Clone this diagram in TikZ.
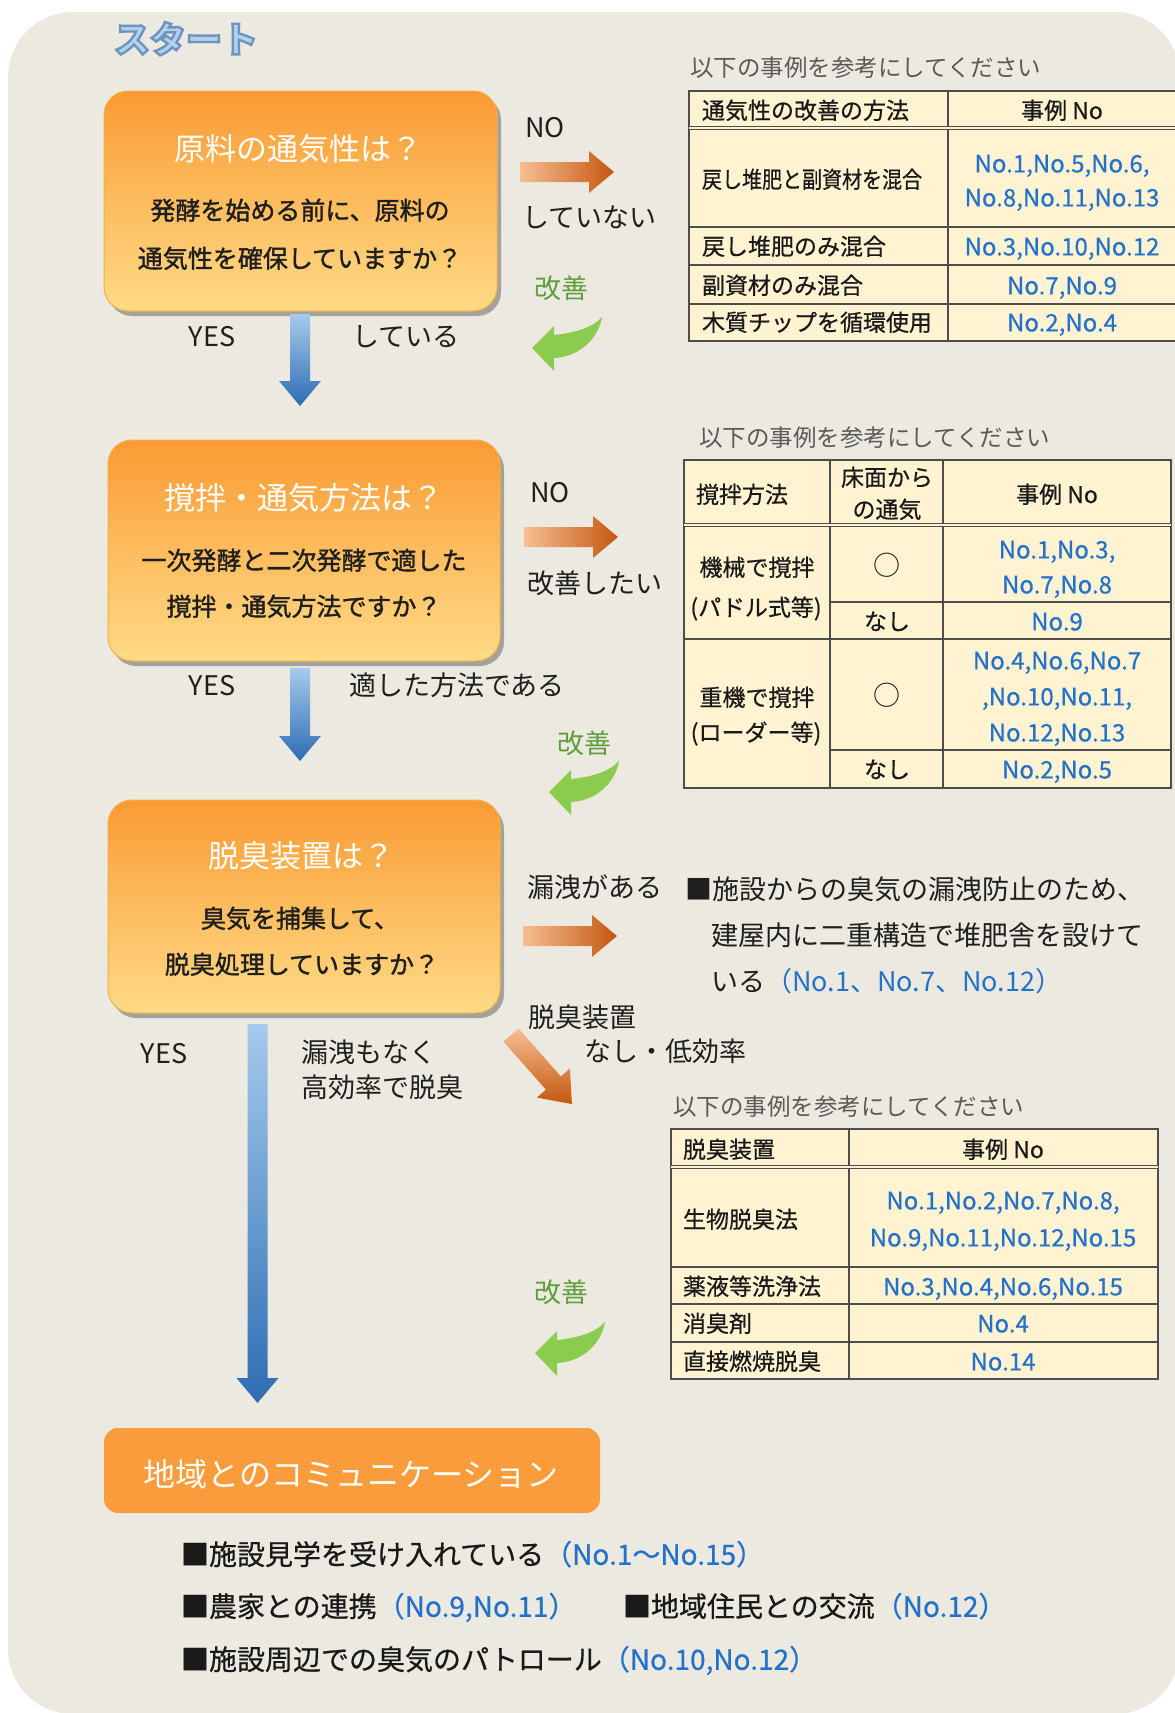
\documentclass[tikz,border=0pt]{standalone}
\usepackage{fontspec}
\usepackage{graphicx}
\setmainfont{Noto Sans CJK JP}
\newfontfamily\jpsemi[FakeBold=1.4]{Noto Sans CJK JP}
\newfontfamily\jpmed[FakeBold=0.6]{Noto Sans CJK JP}
\usetikzlibrary{shadows}
\newcommand\fsz[1]{\fontsize{#1pt}{#1pt}\selectfont}
\definecolor{bgc}{HTML}{ECE9E1}
\definecolor{otop}{HTML}{F99A33}
\definecolor{obot}{HTML}{FFDA86}
\definecolor{omid}{HTML}{FDBC5E}
\definecolor{oedge}{HTML}{F4B040}
\definecolor{obox}{HTML}{FA9C3B}
\definecolor{blt}{HTML}{A5CAEC}
\definecolor{bld}{HTML}{2D6DB2}
\definecolor{arl}{HTML}{F6BE93}
\definecolor{ard}{HTML}{C5570F}
\definecolor{grn}{HTML}{8BCB4E}
\definecolor{grntxt}{HTML}{5E9E3C}
\definecolor{numb}{HTML}{2471C9}
\definecolor{tfill}{HTML}{FFF3D2}
\definecolor{tlc}{HTML}{4D4D4D}
\definecolor{capc}{HTML}{5A5A5A}
\definecolor{stf}{HTML}{B3D1EE}
\newcommand\blkarrowv[2]{\shade[top color=blt,bottom color=bld]
  ([xshift=-10pt]#1) -- ([xshift=10pt]#1) -- ([xshift=10pt,yshift=25pt]#2) -- ([xshift=21pt,yshift=25pt]#2) -- (#2)
  -- ([xshift=-21pt,yshift=25pt]#2) -- ([xshift=-10pt,yshift=25pt]#2) -- cycle;}
\newcommand\blkarrowh[2]{\shade[left color=arl,right color=ard]
  ([yshift=10pt]#1) -- ([xshift=-25pt,yshift=10pt]#2) -- ([xshift=-25pt,yshift=21pt]#2) -- (#2)
  -- ([xshift=-25pt,yshift=-21pt]#2) -- ([xshift=-25pt,yshift=-10pt]#2) -- ([yshift=-10pt]#1) -- cycle;}
\newcommand\grnarrow[1]{\fill[grn] (#1) -- ([xshift=22pt,yshift=22pt]#1) -- ([xshift=22pt,yshift=13pt]#1)
  .. controls ([xshift=42pt,yshift=15pt]#1) and ([xshift=60pt,yshift=20pt]#1) .. ([xshift=70pt,yshift=31pt]#1)
  .. controls ([xshift=66pt,yshift=8pt]#1) and ([xshift=46pt,yshift=-9pt]#1) .. ([xshift=22pt,yshift=-10pt]#1)
  -- ([xshift=22pt,yshift=-23pt]#1) -- cycle;}
\newcommand\outlinetext[1]{\special{pdf:literal direct 2 Tr 2.4 w 0.435 0.576 0.749 RG}#1\special{pdf:literal direct 0 Tr}}
\tikzset{
  tx/.style={inner sep=0pt, outer sep=0pt},
  lbl/.style={tx, font=\fsz{27}, text=black!88, text height=23pt, text depth=4pt},
  ttl/.style={tx, font=\fsz{31}, text=white, text height=26.4pt, text depth=4.6pt},
  subtx/.style={tx, font=\jpsemi\fsz{25}, text=black!88, text height=21.25pt, text depth=3.75pt},
  grntx/.style={tx, font=\fsz{27}, text=grntxt, text height=23pt, text depth=4pt},
  captx/.style={tx, font=\fsz{23.5}, text=capc, text height=20pt, text depth=3.5pt},
  tc/.style={tx, font=\jpmed\fsz{23}, text=black!90, text height=19.5pt, text depth=3.5pt},
  tn/.style={tx, font=\jpmed\fsz{24}, text=numb, text height=20.4pt, text depth=3.6pt},
  btm/.style={tx, font=\jpmed\fsz{28}, text=black!90, text height=23.8pt, text depth=4.2pt, anchor=west},
  sttx/.style={tx, font=\bfseries\fsz{36}, text height=30.6pt, text depth=5.4pt},
  qbox/.style={rounded corners=24pt, top color=otop, bottom color=obot, middle color=omid,
    draw=oedge, line width=1pt,
    drop shadow={shadow xshift=4pt, shadow yshift=-5pt, opacity=.3, fill=black}},
  tline/.style={draw=tlc, line width=1.7pt},
  dline/.style={draw=tlc, line width=1.3pt, double=tfill, double distance=1.6pt},
}
\begin{document}
\begin{tikzpicture}[x=1pt,y=-1pt]
\useasboundingbox (0,0) rectangle (1175,1713);
\clip (0,0) rectangle (1175,1713);
\fill[white] (0,0) rectangle (1175,1713);
\fill[bgc, rounded corners=65pt] (8,12) rectangle (1180,1714);

% title
\node[sttx, text=stf] (start) at (186,40) {\outlinetext{スタート}};

% ---------- question boxes ----------
\node[qbox, minimum width=393pt, minimum height=220pt] (b1) at (300.5,201) {};
\node[ttl] (b1t) at (298,150) {原料の通気性は？};
\node[subtx] (b1s1) at (300,211) {発酵を始める前に、原料の};
\node[subtx] (b1s2) at (300,259) {通気性を確保していますか？};

\node[qbox, minimum width=392pt, minimum height=221pt] (b2) at (304,550.5) {};
\node[ttl] (b2t) at (304,499) {撹拌・通気方法は？};
\node[subtx] (b2s1) at (304,561) {一次発酵と二次発酵で適した};
\node[subtx] (b2s2) at (304,607) {撹拌・通気方法ですか？};

\node[qbox, minimum width=392pt, minimum height=213pt] (b3) at (304,906.5) {};
\node[ttl] (b3t) at (301,857) {脱臭装置は？};
\node[subtx] (b3s1) at (300,919) {臭気を捕集して、};
\node[subtx] (b3s2) at (302,965) {脱臭処理していますか？};

\node[fill=obox, rounded corners=14pt, minimum width=496pt, minimum height=85pt] (b4) at (352,1470.5) {};
\node[tx, font=\fsz{32}, text=white, text height=27.2pt, text depth=4.8pt] (b4t) at (351,1475) {地域とのコミュニケーション};

% ---------- YES arrows ----------
\coordinate (y1s) at (300,314); \coordinate (y1e) at (300,406);
\blkarrowv{y1s}{y1e}
\coordinate (y2s) at (300,668); \coordinate (y2e) at (300,761);
\blkarrowv{y2s}{y2e}
\coordinate (y3s) at (257.5,1024); \coordinate (y3e) at (257.5,1403);
\blkarrowv{y3s}{y3e}

\node[lbl] (yes1) at (212,337) {YES};
\node[lbl, anchor=west] (yes1b) at (352,337) {している};
\node[lbl] (yes2) at (212,686) {YES};
\node[lbl, anchor=west] (yes2b) at (349,686) {適した方法である};
\node[lbl] (yes3) at (164,1054) {YES};
\node[lbl, anchor=west] (yes3b) at (301,1053) {漏洩もなく};
\node[lbl, anchor=west] (yes3c) at (301,1088) {高効率で脱臭};

% ---------- NO arrows ----------
\coordinate (n1s) at (520,172); \coordinate (n1e) at (614,172);
\blkarrowh{n1s}{n1e}
\coordinate (n2s) at (524,537); \coordinate (n2e) at (618,537);
\blkarrowh{n2s}{n2e}
\coordinate (n3s) at (523,936); \coordinate (n3e) at (617,936);
\blkarrowh{n3s}{n3e}
\shade[top color=arl, bottom color=ard] (518.5,1028.4) -- (560.9,1076.4) -- (569.9,1068.4) -- (571.9,1104)
  -- (536.9,1097.6) -- (545.9,1089.6) -- (503.5,1041.6) -- cycle;

\node[lbl] (no1) at (545,128) {NO};
\node[lbl, anchor=west] (no1b) at (522,218) {していない};
\node[lbl] (no2) at (550,493) {NO};
\node[lbl, anchor=west] (no2b) at (527,584) {改善したい};
\node[lbl, anchor=west] (no3) at (527,888) {漏洩がある};
\node[lbl, anchor=west] (no4) at (528,1018) {脱臭装置};
\node[lbl, anchor=west] (no4b) at (584,1052) {なし・低効率};

\node[lbl, anchor=west] (r1) at (685,890) {■施設からの臭気の漏洩防止のため、};
\node[lbl, anchor=west] (r2) at (711,936) {建屋内に二重構造で堆肥舎を設けて};
\node[lbl, anchor=west] (r3) at (711,982) {いる\textcolor{numb}{（No.1、No.7、No.12）}};

% ---------- improvement arrows ----------
\node[grntx] (k1) at (561,289) {改善};
\coordinate (g1) at (532,348); \grnarrow{g1}
\node[grntx] (k2) at (584,744) {改善};
\coordinate (g2) at (549,792); \grnarrow{g2}
\node[grntx] (k3) at (561,1293) {改善};
\coordinate (g3) at (535,1353); \grnarrow{g3}

% ---------- table 1 ----------
\node[captx, anchor=west] (c1) at (690,68) {以下の事例を参考にしてください};
\fill[tfill] (689,91) rectangle (1180,341);
\draw[tline] (1180,91) -- (689,91) -- (689,341) -- (1180,341);
\draw[tline] (948,91) -- (948,341);
\draw[dline] (689,128) -- (1180,128);
\draw[tline] (689,227) -- (1180,227);
\draw[tline] (689,265) -- (1180,265);
\draw[tline] (689,304) -- (1180,304);
\node[tc, anchor=west] (t1a) at (702,111) {通気性の改善の方法};
\node[tc] (t1b) at (1062,111) {事例 No};
\node[tc, anchor=west] (t1c) at (702,180) {\scalebox{0.87}[1]{戻し堆肥と副資材を混合}};
\node[tn] (t1d) at (1062,164) {No.1,No.5,No.6,};
\node[tn] (t1e) at (1062,198) {No.8,No.11,No.13};
\node[tc, anchor=west] (t1f) at (702,247) {戻し堆肥のみ混合};
\node[tn] (t1g) at (1062,247) {No.3,No.10,No.12};
\node[tc, anchor=west] (t1h) at (702,286) {副資材のみ混合};
\node[tn] (t1i) at (1062,286) {No.7,No.9};
\node[tc, anchor=west] (t1j) at (702,323) {木質チップを循環使用};
\node[tn] (t1k) at (1062,323) {No.2,No.4};

% ---------- table 2 ----------
\node[captx, anchor=west] (c2) at (699,438) {以下の事例を参考にしてください};
\fill[tfill] (684,460) rectangle (1171,788);
\draw[tline] (684,460) rectangle (1171,788);
\draw[tline] (830,460) -- (830,788);
\draw[tline] (943,460) -- (943,788);
\draw[dline] (684,525) -- (1171,525);
\draw[tline] (830,602) -- (1171,602);
\draw[tline] (684,639) -- (1171,639);
\draw[tline] (830,750) -- (1171,750);
\node[tc, anchor=west] (t2a) at (696,495) {撹拌方法};
\node[tc] (t2b) at (887,478) {床面から};
\node[tc] (t2c) at (887,510) {の通気};
\node[tc] (t2d) at (1057,495) {事例 No};
\node[tc] (t2e) at (757,568) {機械で撹拌};
\node[tc] (t2f) at (756,608) {(パドル式等)};
\node[tc, font=\fsz{27}] (t2g) at (887,567) {○};
\node[tc] (t2h) at (887,622) {なし};
\node[tn] (t2i) at (1057,550) {No.1,No.3,};
\node[tn] (t2j) at (1057,585) {No.7,No.8};
\node[tn] (t2k) at (1057,622) {No.9};
\node[tc] (t2l) at (757,698) {重機で撹拌};
\node[tc] (t2m) at (756,733) {(ローダー等)};
\node[tc, font=\fsz{27}] (t2n) at (887,697) {○};
\node[tc] (t2o) at (887,770) {なし};
\node[tn] (t2p) at (1057,661) {No.4,No.6,No.7};
\node[tn] (t2q) at (1057,697) {,No.10,No.11,};
\node[tn] (t2r) at (1057,733) {No.12,No.13};
\node[tn] (t2s) at (1057,770) {No.2,No.5};

% ---------- table 3 ----------
\node[captx, anchor=west] (c3) at (673,1107) {以下の事例を参考にしてください};
\fill[tfill] (671,1129) rectangle (1158,1379);
\draw[tline] (671,1129) rectangle (1158,1379);
\draw[tline] (849,1129) -- (849,1379);
\draw[dline] (671,1167) -- (1158,1167);
\draw[tline] (671,1267) -- (1158,1267);
\draw[tline] (671,1304) -- (1158,1304);
\draw[tline] (671,1342) -- (1158,1342);
\node[tc, anchor=west] (t3a) at (683,1150) {脱臭装置};
\node[tc] (t3b) at (1003,1150) {事例 No};
\node[tc, anchor=west] (t3c) at (683,1220) {生物脱臭法};
\node[tn] (t3d) at (1003,1201) {No.1,No.2,No.7,No.8,};
\node[tn] (t3e) at (1003,1238) {No.9,No.11,No.12,No.15};
\node[tc, anchor=west] (t3f) at (683,1287) {薬液等洗浄法};
\node[tn] (t3g) at (1003,1287) {No.3,No.4,No.6,No.15};
\node[tc, anchor=west] (t3h) at (683,1324) {消臭剤};
\node[tn] (t3i) at (1003,1324) {No.4};
\node[tc, anchor=west] (t3j) at (683,1362) {直接燃焼脱臭};
\node[tn] (t3k) at (1003,1362) {No.14};

% ---------- bottom list ----------
\node[btm] (l1) at (181,1555) {■施設見学を受け入れている\textcolor{numb}{（No.1〜No.15）}};
\node[btm] (l2) at (181,1607) {■農家との連携\textcolor{numb}{（No.9,No.11）}};
\node[btm] (l3) at (623,1607) {■地域住民との交流\textcolor{numb}{（No.12）}};
\node[btm] (l4) at (181,1660) {■施設周辺での臭気のパトロール\textcolor{numb}{（No.10,No.12）}};
\end{tikzpicture}
\end{document}
